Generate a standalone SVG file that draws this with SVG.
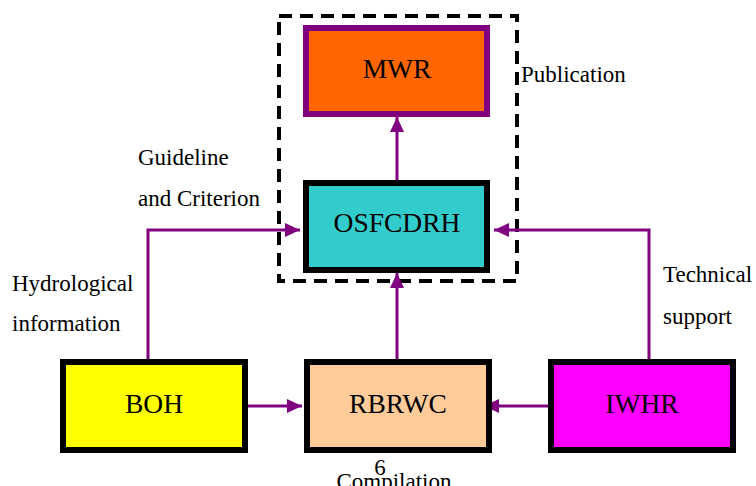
<svg xmlns="http://www.w3.org/2000/svg" width="756" height="486" viewBox="0 0 756 486">
<style>
.node{stroke:#000;stroke-width:6}
.nt{font-family:"Liberation Serif","Times New Roman",serif;font-size:27.5px;fill:#000;text-anchor:middle}
.lb{font-family:"Liberation Serif","Times New Roman",serif;font-size:23px;fill:#000}
.conn{fill:none;stroke:#800080;stroke-width:3}
</style>
<defs>
<marker id="ah" markerUnits="userSpaceOnUse" markerWidth="15" markerHeight="14" refX="15" refY="7" orient="auto">
<path d="M0,0 L15,7 L0,14 z" fill="#800080"/>
</marker>
<clipPath id="clipInfo"><rect x="0" y="0" width="756" height="331"/></clipPath>
</defs>
<rect width="756" height="486" fill="#fff"/>
<g id="group-box">
<rect x="279" y="16" width="238" height="265" fill="none" stroke="#000" stroke-width="4" stroke-dasharray="13 8"/>
</g>
<g id="connectors">
<line class="conn" x1="397" y1="181" x2="397" y2="117" marker-end="url(#ah)"/>
<line class="conn" x1="397" y1="360" x2="397" y2="273" marker-end="url(#ah)"/>
<line class="conn" x1="248" y1="406" x2="302" y2="406" marker-end="url(#ah)"/>
<line class="conn" x1="548" y1="406" x2="484" y2="406" marker-end="url(#ah)"/>
<path class="conn" d="M148 360 V230 H300" marker-end="url(#ah)"/>
<path class="conn" d="M649 360 V230 H494" marker-end="url(#ah)"/>
</g>
<g id="MWR">
<rect x="306" y="28" width="181" height="86" fill="#FF6600" stroke="#800080" stroke-width="6"/>
<text class="nt" x="397" y="78">MWR</text>
</g>
<g id="OSFCDRH">
<rect class="node" x="306" y="183" width="181" height="87" fill="#33CCCC"/>
<text class="nt" x="397" y="232">OSFCDRH</text>
</g>
<g id="BOH">
<rect class="node" x="63" y="362" width="182" height="88" fill="#FFFF00"/>
<text class="nt" x="154" y="413">BOH</text>
</g>
<g id="RBRWC">
<rect class="node" x="307" y="362" width="182" height="88" fill="#FFCC99"/>
<text class="nt" x="398" y="413">RBRWC</text>
</g>
<g id="IWHR">
<rect class="node" x="551" y="362" width="182" height="88" fill="#FF00FF"/>
<text class="nt" x="642" y="413">IWHR</text>
</g>
<g id="labels">
<text class="lb" x="521" y="82">Publication</text>
<text class="lb" x="138" y="165">Guideline</text>
<text class="lb" x="138" y="206">and Criterion</text>
<text class="lb" x="12" y="291">Hydrological</text>
<text class="lb" x="12" y="331" clip-path="url(#clipInfo)">information</text>
<text class="lb" x="663" y="282">Technical</text>
<text class="lb" x="663" y="324">support</text>
<text class="lb" x="380" y="475" text-anchor="middle">6</text>
<text class="lb" x="394" y="489" text-anchor="middle">Compilation</text>
</g>
</svg>
